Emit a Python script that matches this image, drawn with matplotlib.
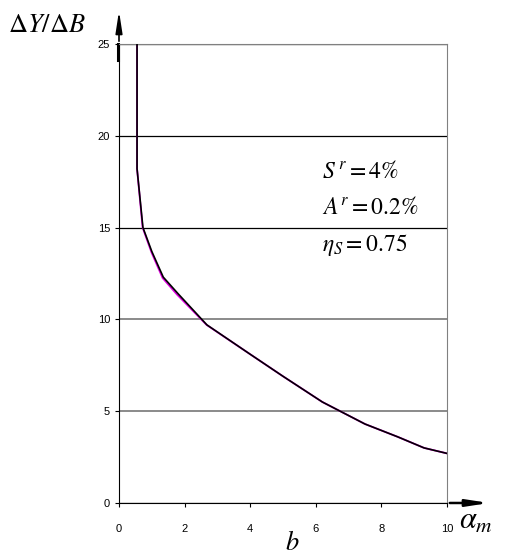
import matplotlib
matplotlib.use("Agg")
import matplotlib.pyplot as plt

plt.rcParams["mathtext.fontset"] = "stix"

# curve (black series and magenta series nearly coincide)
alpha_k = [0.55, 0.55, 0.73, 1.0, 1.35, 1.8, 2.68, 4.0, 5.0, 6.2, 7.5, 8.5, 9.3, 10.0]
ratio_k = [25.0, 18.2, 15.0, 13.7, 12.3, 11.4, 9.7, 8.1, 6.9, 5.5, 4.3, 3.6, 3.0, 2.7]
alpha_m = [0.55, 0.55, 0.72, 0.99, 1.33, 1.77, 2.67, 4.0, 5.0, 6.2, 7.5, 8.5, 9.3, 10.0]
ratio_m = [25.0, 18.2, 15.0, 13.65, 12.25, 11.35, 9.7, 8.1, 6.9, 5.5, 4.3, 3.6, 3.0, 2.7]

xticks = [0, 2, 4, 6, 8, 10]
yticks = [0, 5, 10, 15, 20, 25]
notes = [r"$S^{\,r} = 4\%$", r"$A^{r} = 0.2\%$", r"$\eta_S = 0.75$"]
note_y = [18.1, 16.1, 14.05]

fig = plt.figure(figsize=(5.09, 5.58), dpi=100)
ax = fig.add_axes([0.2338, 0.0986, 0.6444, 0.8226])

ax.plot(alpha_m, ratio_m, color="#e000e0", lw=1.3, zorder=2)
ax.plot(alpha_k, ratio_k, color="black", lw=1.2, zorder=3)

ax.set_xlim(0, 10)
ax.set_ylim(0, 25)
ax.set_xticks(xticks)
ax.set_yticks(yticks)
ax.tick_params(labelsize=8, length=3, width=0.8, direction="out")
for lab in ax.get_xticklabels() + ax.get_yticklabels():
    lab.set_family("Liberation Sans")
ax.tick_params(axis="x", pad=12)
ax.yaxis.grid(True, color="black", lw=0.9)
for gl, tv in zip(ax.get_ygridlines(), yticks):
    if tv in (5, 10):
        gl.set_color("#777777")
        gl.set_linewidth(1.2)
for side in ["top", "right"]:
    ax.spines[side].set_color("#808080")
ax.spines["left"].set_color("black")
ax.spines["bottom"].set_color("black")

for t, y in zip(notes, note_y):
    ax.text(6.2, y, t, fontsize=17, va="center", ha="left")

# axis arrows
ax.annotate("", xy=(0, 26.95), xytext=(0, 25), xycoords="data",
            arrowprops=dict(arrowstyle="-|>,head_width=0.2,head_length=1.3",
                            color="black", lw=1.2), annotation_clip=False)
ax.plot([-0.04, -0.04], [24.1, 25], color="black", lw=2.2, clip_on=False)
ax.annotate("", xy=(11.37, 0), xytext=(10, 0), xycoords="data",
            arrowprops=dict(arrowstyle="-|>,head_width=0.2,head_length=1.3",
                            color="black", lw=1.8), annotation_clip=False)

fig.text(0.016, 0.955, r"$\Delta Y/\Delta B$", fontsize=19, ha="left", va="center")
fig.text(0.902, 0.068, r"$\alpha_m$", fontsize=22, ha="left", va="center")
fig.text(0.575, 0.027, r"$b$", fontsize=19, ha="center", va="center")

fig.savefig("out.png", dpi=100)
